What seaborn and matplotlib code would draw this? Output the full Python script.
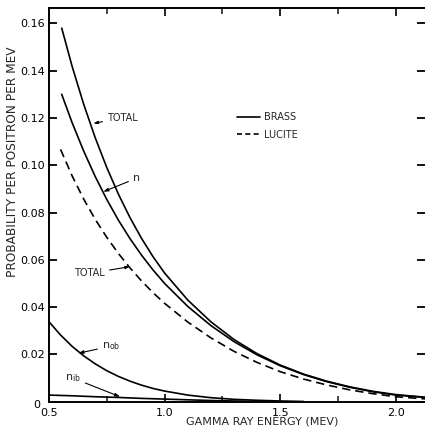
import matplotlib
matplotlib.use("Agg")
import matplotlib.pyplot as plt
from matplotlib.lines import Line2D
from matplotlib.ticker import FixedLocator
from matplotlib.transforms import ScaledTranslation
import seaborn as sns

# ---- data ----
x_total = [0.555, 0.6, 0.65, 0.7, 0.75, 0.8, 0.85, 0.9, 0.95, 1.0, 1.1, 1.2, 1.3, 1.4, 1.5, 1.6, 1.7, 1.8, 1.9, 2.0, 2.126]
y_total = [0.158, 0.1418, 0.1258, 0.1116, 0.0990, 0.0878, 0.0779, 0.0691, 0.0613, 0.0544, 0.0430, 0.0338, 0.0263, 0.0203, 0.0155, 0.0117, 0.0087, 0.0063, 0.0044, 0.0030, 0.0019]

x_n = [0.555, 0.6, 0.65, 0.7, 0.75, 0.8, 0.85, 0.9, 0.95, 1.0, 1.1, 1.2, 1.3, 1.4, 1.5, 1.6, 1.7, 1.8, 1.9, 2.0, 2.126]
y_n = [0.130, 0.118, 0.1060, 0.0952, 0.0855, 0.0768, 0.0690, 0.0620, 0.0557, 0.0500, 0.0403, 0.0322, 0.0254, 0.0198, 0.0152, 0.0115, 0.0085, 0.0061, 0.0042, 0.0028, 0.0018]

x_lucite = [0.55, 0.6, 0.65, 0.7, 0.75, 0.8, 0.85, 0.9, 0.95, 1.0, 1.1, 1.2, 1.3, 1.4, 1.5, 1.6, 1.7, 1.8, 1.9, 2.0, 2.126]
y_lucite = [0.1067, 0.0955, 0.0857, 0.0771, 0.0695, 0.0627, 0.0566, 0.0511, 0.0461, 0.0416, 0.0337, 0.0270, 0.0213, 0.0166, 0.0127, 0.0096, 0.0071, 0.0050, 0.0034, 0.0021, 0.0012]

x_nob = [0.5, 0.55, 0.6, 0.65, 0.7, 0.75, 0.8, 0.85, 0.9, 0.95, 1.0, 1.1, 1.2, 1.3, 1.4, 1.5, 1.6]
y_nob = [0.0338, 0.0282, 0.0234, 0.0194, 0.0160, 0.0131, 0.0107, 0.0087, 0.0070, 0.0056, 0.0045, 0.0028, 0.0017, 0.0010, 0.0006, 0.0003, 0.0001]

x_nib = [0.5, 0.6, 0.7, 0.8, 0.9, 1.0, 1.1, 1.2, 1.3, 1.4]
y_nib = [0.0028, 0.0025, 0.0021, 0.0018, 0.0014, 0.0011, 0.0008, 0.0005, 0.0003, 0.0001]

x_major = [0.5, 1.0, 1.5, 2.0]
x_major_labels = ["0.5", "1.0", "1.5", "2.0"]
x_minor = [0.75, 1.25, 1.75]
y_ticks = [0, 0.02, 0.04, 0.06, 0.08, 0.10, 0.12, 0.14, 0.16]
y_tick_labels = ["0", "0.02", "0.04", "0.06", "0.08", "0.10", "0.12", "0.14", "0.16"]

# ---- style ----
sns.set_style("ticks")
plt.rcParams["font.family"] = ["DejaVu Sans"]

fig = plt.figure(figsize=(4.25, 4.3), dpi=100)
ax = fig.add_axes([49 / 425, 28.3 / 430, 376 / 425, 393.7 / 430])

lw = 1.2
for xs, ys in [(x_total, y_total), (x_n, y_n), (x_nob, y_nob), (x_nib, y_nib)]:
    sns.lineplot(x=xs, y=ys, ax=ax, color="black", lw=lw, estimator=None, sort=False)
sns.lineplot(x=x_lucite, y=y_lucite, ax=ax, color="black", lw=lw, estimator=None,
             sort=False)
ax.lines[-1].set_dashes((5, 3))

ax.set_xlim(0.5, 2.126)
ax.set_ylim(0, 0.1665)

ax.xaxis.set_major_locator(FixedLocator(x_major))
ax.set_xticklabels(x_major_labels)
ax.xaxis.set_minor_locator(FixedLocator(x_minor))
ax.set_yticks(y_ticks)
ax.set_yticklabels(y_tick_labels)

ax.tick_params(axis="x", which="major", direction="in", length=5.5, width=1.2,
               top=True, labelsize=8, pad=4.5, colors="black")
ax.tick_params(axis="x", which="minor", direction="in", length=4.5, width=1.2, top=True)
ax.tick_params(axis="y", which="major", direction="in", length=5.5, width=1.3,
               right=True, labelsize=8, pad=3, colors="black")

# the "0" of the y axis sits a little lower-left, clear of "0.5"
zero_lbl = ax.get_yticklabels()[0]
zero_lbl.set_transform(zero_lbl.get_transform() +
                       ScaledTranslation(-5 / 100, -2 / 100, fig.dpi_scale_trans))

for s in ["left", "bottom", "top"]:
    ax.spines[s].set_linewidth(1.4)
    ax.spines[s].set_color("black")
ax.spines["right"].set_visible(False)

ax.set_xlabel("GAMMA RAY ENERGY (MEV)", fontsize=8)
ax.set_ylabel("PROBABILITY PER POSITRON PER MEV", fontsize=8.7)
ax.xaxis.set_label_coords(0.567, -0.038)
ax.yaxis.set_label_coords(-0.080, 0.610)

arrow = dict(arrowstyle="-|>,head_length=0.35,head_width=0.12", color="black",
             lw=0.8, shrinkA=1, shrinkB=0)
fs = 7
ax.annotate("TOTAL", xy=(0.692, 0.1177), xytext=(0.751, 0.120), fontsize=fs,
            ha="left", va="center", arrowprops=arrow)
ax.annotate("n", xy=(0.735, 0.0888), xytext=(0.863, 0.0945), fontsize=8,
            ha="left", va="center", arrowprops=arrow)
ax.annotate("TOTAL", xy=(0.850, 0.0571), xytext=(0.742, 0.0543), fontsize=fs,
            ha="right", va="center", arrowprops=arrow)
ax.annotate(r"$\mathregular{n_{ob}}$", xy=(0.627, 0.0205), xytext=(0.729, 0.0235),
            fontsize=8, ha="left", va="center", arrowprops=arrow)
ax.annotate(r"$\mathregular{n_{ib}}$", xy=(0.807, 0.0021), xytext=(0.569, 0.0100),
            fontsize=8, ha="left", va="center", arrowprops=arrow)

handles = [Line2D([], [], color="black", lw=1.2),
           Line2D([], [], color="black", lw=1.2, dashes=(3, 2))]
ax.legend(handles, ["BRASS", "LUCITE"], loc="upper left", bbox_to_anchor=(0.499, 0.735),
          frameon=False, fontsize=7, handlelength=2.4, handletextpad=0.4,
          labelspacing=0.75, borderpad=0, borderaxespad=0)

fig.savefig("out.png", dpi=100)
